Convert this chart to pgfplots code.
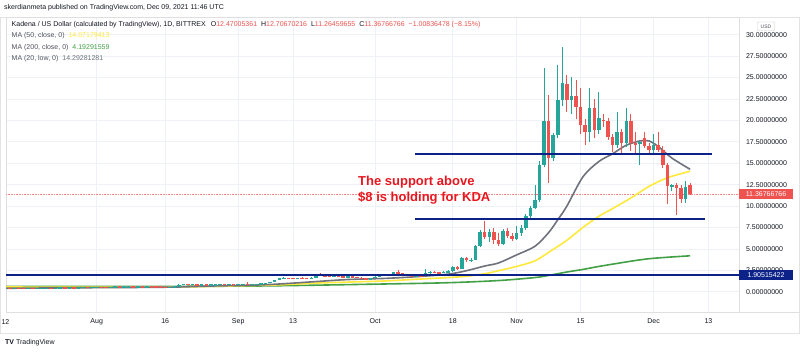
\documentclass[border=0pt]{standalone}
\usepackage{pgfplots}
\pgfplotsset{compat=1.18}
\usepackage{pgfplotstable}
\usepackage{fontspec}
\setmainfont{Liberation Sans}
\definecolor{up}{HTML}{26A69A}
\definecolor{dn}{HTML}{EF5350}
\definecolor{ma50}{HTML}{FFE93B}
\definecolor{ma200}{HTML}{43A047}
\definecolor{ma20}{HTML}{6F717C}
\definecolor{navy}{HTML}{0C2289}
\definecolor{gridc}{HTML}{EEF1F6}
\definecolor{txt}{HTML}{131722}
\definecolor{txtg}{HTML}{50535E}
\definecolor{annot}{HTML}{E8171F}

\pgfplotstableread{
d o h l c
-20 0.40 0.43 0.39 0.42
-19 0.42 0.43 0.40 0.41
-18 0.41 0.44 0.40 0.43
-17 0.43 0.44 0.41 0.42
-16 0.42 0.43 0.39 0.40
-15 0.40 0.42 0.39 0.41
-14 0.41 0.42 0.38 0.39
-13 0.39 0.41 0.38 0.40
-12 0.40 0.43 0.39 0.42
-11 0.42 0.45 0.41 0.44
-10 0.44 0.45 0.42 0.43
-9 0.43 0.46 0.42 0.45
-8 0.45 0.48 0.44 0.47
-7 0.47 0.48 0.45 0.46
-6 0.46 0.49 0.45 0.48
-5 0.48 0.49 0.46 0.47
-4 0.47 0.51 0.46 0.50
-3 0.50 0.53 0.49 0.52
-2 0.52 0.53 0.49 0.50
-1 0.50 0.54 0.49 0.53
0 0.53 0.56 0.52 0.55
1 0.55 0.56 0.53 0.54
2 0.54 0.55 0.51 0.52
3 0.52 0.56 0.51 0.55
4 0.55 0.58 0.54 0.57
5 0.57 0.58 0.55 0.56
6 0.56 0.59 0.55 0.58
7 0.58 0.62 0.57 0.60
8 0.60 0.61 0.56 0.57
9 0.57 0.60 0.56 0.59
10 0.59 0.60 0.57 0.58
11 0.58 0.62 0.57 0.61
12 0.61 0.62 0.59 0.60
13 0.60 0.61 0.57 0.58
14 0.58 0.59 0.54 0.55
15 0.55 0.56 0.48 0.50
16 0.50 0.57 0.49 0.56
17 0.56 0.62 0.55 0.60
18 0.60 0.86 0.59 0.82
19 0.82 0.92 0.80 0.88
20 0.88 0.90 0.82 0.84
21 0.84 0.89 0.82 0.86
22 0.86 0.87 0.78 0.80
23 0.80 0.85 0.78 0.83
24 0.83 0.84 0.76 0.78
25 0.78 0.84 0.77 0.82
26 0.82 0.87 0.80 0.85
27 0.85 0.90 0.84 0.88
28 0.88 0.89 0.82 0.84
29 0.84 0.88 0.83 0.86
30 0.86 0.87 0.81 0.83
31 0.83 0.88 0.82 0.86
32 0.86 0.90 0.85 0.88
33 0.88 1.08 0.84 0.85
34 0.85 0.89 0.84 0.87
35 0.87 0.92 0.86 0.90
36 0.90 0.97 0.89 0.95
37 0.95 1.06 0.93 1.00
38 1.00 1.18 0.98 1.15
39 1.15 1.38 1.12 1.35
40 1.35 1.58 1.32 1.55
41 1.55 1.68 1.50 1.60
42 1.60 1.63 1.52 1.58
43 1.58 1.62 1.50 1.56
44 1.56 1.64 1.54 1.60
45 1.60 1.66 1.52 1.57
46 1.57 1.60 1.50 1.55
47 1.55 1.70 1.53 1.65
48 1.65 2.12 1.63 2.00
49 2.00 2.15 1.88 1.92
50 1.92 1.98 1.80 1.85
51 1.85 1.90 1.76 1.80
52 1.80 1.90 1.76 1.84
53 1.84 1.95 1.72 1.78
54 1.78 1.84 1.62 1.72
55 1.72 1.80 1.68 1.76
56 1.76 1.86 1.70 1.74
57 1.74 1.77 1.60 1.65
58 1.65 1.68 1.50 1.55
59 1.55 1.60 1.40 1.45
60 1.45 1.64 1.42 1.60
61 1.60 1.80 1.58 1.75
62 1.75 1.86 1.72 1.82
63 1.82 2.06 1.80 2.00
64 2.00 2.10 1.95 2.05
65 2.05 2.30 2.02 2.25
66 2.25 2.55 2.08 2.15
67 2.15 2.22 1.98 2.05
68 2.05 2.10 1.88 1.92
69 1.92 1.98 1.80 1.85
70 1.85 1.95 1.82 1.90
71 1.90 1.94 1.74 1.80
72 1.80 2.60 1.78 2.20
73 2.20 2.45 2.12 2.30
74 2.30 2.40 2.15 2.25
75 2.25 2.32 2.10 2.20
76 2.20 2.38 2.15 2.30
77 2.30 2.48 2.25 2.40
78 2.40 3.00 2.35 2.90
79 2.90 2.95 2.55 2.65
80 2.65 4.00 2.60 3.90
81 3.90 4.05 3.45 3.65
82 3.65 3.90 3.50 3.70
83 3.70 5.40 3.65 5.30
84 5.30 7.20 5.20 7.00
85 7.00 8.30 6.20 6.40
86 6.40 7.30 5.80 7.00
87 7.00 7.40 5.60 6.00
88 6.00 6.80 5.30 5.60
89 5.60 7.30 5.50 7.10
90 7.10 7.40 6.30 6.50
91 6.50 6.90 5.90 6.20
92 6.20 7.70 6.00 6.80
93 6.80 7.80 6.50 7.40
94 7.40 9.10 7.20 8.80
95 8.80 10.00 8.60 9.80
96 9.80 12.50 9.60 10.70
97 10.70 15.30 10.50 14.80
98 14.80 26.10 14.60 19.90
99 19.90 23.00 12.70 15.60
100 15.60 18.50 15.20 18.30
101 18.30 26.50 17.90 22.40
102 22.40 28.60 21.70 24.40
103 24.20 25.30 21.00 22.40
104 22.40 25.10 20.80 22.80
105 22.80 24.70 20.20 21.60
106 21.60 23.80 18.40 19.50
107 19.50 20.20 17.10 18.70
108 18.70 23.80 17.50 21.50
109 21.50 22.50 18.00 18.90
110 18.90 23.30 18.40 20.30
111 20.10 20.80 19.20 19.90
112 19.90 20.30 17.70 18.10
113 18.10 18.40 16.30 17.10
114 17.10 21.00 16.80 18.70
115 18.70 19.00 16.20 17.40
116 17.40 21.40 16.90 19.90
117 19.90 20.80 16.40 17.40
118 17.40 18.60 16.20 17.20
119 17.20 17.60 14.80 17.45
120 17.90 18.60 16.80 17.00
121 17.00 17.40 16.00 16.50
122 16.50 18.40 16.20 17.10
123 17.10 18.60 16.30 16.60
124 16.60 17.00 14.40 14.80
125 14.80 15.00 10.20 12.30
126 12.20 12.60 11.70 12.40
127 12.40 12.70 9.00 12.10
128 12.10 12.40 10.30 10.80
129 10.80 12.90 10.40 12.20
130 12.47 12.71 11.26 11.37
}\kda

\begin{document}
\begin{tikzpicture}[x=1pt,y=1pt]
\path[use as bounding box] (0,0) rectangle (800,353);
\fill[white] (0,0) rectangle (800,353);
\draw[gray!22, line width=0.6pt] (0.3,20) rectangle (799.7,336);
\begin{axis}[
  at={(6pt,41pt)}, anchor=south west, scale only axis,
  width=733pt, height=295pt,
  xmin=-19.87, xmax=140.7, ymin=-2.37, ymax=32.07,
  axis line style={draw=gray!25, line width=0.6pt},
  ytick={0,2.5,5,7.5,10,12.5,15,17.5,20,22.5,25,27.5,30},
  yticklabels={0.00000000,2.50000000,5.00000000,7.50000000,10.00000000,12.50000000,15.00000000,17.50000000,20.00000000,22.50000000,25.00000000,27.50000000,30.00000000},
  yticklabel pos=right,
  yticklabel style={font=\fontsize{7}{8}\selectfont, text=txt, xshift=3.5pt},
  xtick={0,15,31,43,61,78,92,106,122,134},
  xticklabels={Aug,16,Sep,13,Oct,18,Nov,15,Dec,13},
  xticklabel style={font=\fontsize{7}{8}\selectfont, text=txt, yshift=-3.5pt},
  major tick length=0pt,
  grid=major, grid style={gridc, line width=0.6pt},
  /pgf/number format/assume math mode=true,
  clip=true,
]
% red dotted price line
\addplot[dn!70, densely dotted, line width=0.6pt, forget plot] coordinates {(-19.87,11.37) (140.7,11.37)};
% moving averages
\addplot[ma200, line width=1.6pt, smooth, tension=0.5] coordinates {
(-20,0.62) (0,0.62) (34,0.66) (63,0.90) (77,1.05) (88,1.30) (96,1.65) (99,1.90) (103,2.30) (106.5,2.60) (110,2.95) (114,3.30) (117.5,3.60) (121,3.85) (125,4.02) (130,4.19)};
\addplot[ma50, line width=1.6pt, smooth, tension=0.5] coordinates {
(-20,0.55) (0,0.52) (18,0.55) (25,0.62) (34,0.72) (40,0.80) (48,1.00) (55,1.12) (63,1.25) (70,1.45) (77,1.65) (81,1.80) (85,2.10) (88,2.45) (92,2.95) (96,3.60) (99,4.60) (103,6.00) (106.5,7.50) (110,8.80) (114,10.00) (117.5,11.10) (121,12.30) (125,13.30) (130,14.07)};
\addplot[ma20, line width=1.6pt, smooth, tension=0.5] coordinates {
(-20,0.40) (0,0.47) (10,0.50) (18,0.55) (25,0.66) (34,0.76) (40,0.90) (48,1.18) (55,1.42) (63,1.55) (70,1.75) (77,2.05) (81,2.45) (85,3.00) (88,3.35) (92,4.30) (96,5.30) (99,6.90) (101,8.40) (103,10.00) (106.5,13.40) (110,15.20) (113,16.10) (116,17.10) (119,17.60) (121,17.60) (123,16.95) (126,15.60) (130,14.29)};
% wicks
\addplot[draw=none, mark=none, forget plot,
  restrict expr to domain={\thisrow{c}-\thisrow{o}}{0:100},
  error bars/.cd, y dir=both, y explicit, error mark=none,
  error bar style={line width=0.9pt, draw=up}]
  table[x=d, y expr=(\thisrow{h}+\thisrow{l})/2, y error expr=(\thisrow{h}-\thisrow{l})/2] {\kda};
\addplot[draw=none, mark=none, forget plot,
  restrict expr to domain={\thisrow{c}-\thisrow{o}}{-100:-0.000001},
  error bars/.cd, y dir=both, y explicit, error mark=none,
  error bar style={line width=0.9pt, draw=dn}]
  table[x=d, y expr=(\thisrow{h}+\thisrow{l})/2, y error expr=(\thisrow{h}-\thisrow{l})/2] {\kda};
% bodies
\addplot[draw=none, mark=none, forget plot,
  restrict expr to domain={\thisrow{c}-\thisrow{o}}{0:100},
  error bars/.cd, y dir=both, y explicit, error mark=none,
  error bar style={line width=3.5pt, draw=up}]
  table[x=d, y expr=(\thisrow{o}+\thisrow{c})/2, y error expr={max(abs(\thisrow{c}-\thisrow{o})/2,0.05)}] {\kda};
\addplot[draw=none, mark=none, forget plot,
  restrict expr to domain={\thisrow{c}-\thisrow{o}}{-100:-0.000001},
  error bars/.cd, y dir=both, y explicit, error mark=none,
  error bar style={line width=3.5pt, draw=dn}]
  table[x=d, y expr=(\thisrow{o}+\thisrow{c})/2, y error expr={max(abs(\thisrow{c}-\thisrow{o})/2,0.05)}] {\kda};
% support / resistance lines
\addplot[navy, line width=2pt] coordinates {(69.8,16.07) (134.8,16.07)};
\addplot[navy, line width=2pt] coordinates {(69.8,8.49) (133.3,8.49)};
\addplot[navy, line width=2pt] coordinates {(-19.87,1.905) (140.7,1.905)};
\end{axis}
\draw[gray!25, line width=0.6pt] (739,41) -- (800,41);
% header
\node[anchor=west, inner sep=0, font=\fontsize{7}{8}\selectfont, text=txt] at (4,345) {skerdianmeta published on TradingView.com, Dec 09, 2021 11:46 UTC};
\node[anchor=west, inner sep=0, font=\fontsize{7}{8}\selectfont, text=txt] at (11.5,328) {Kadena / US Dollar (calculated by TradingView), 1D, BITTREX\hspace{5pt}O\textcolor{dn}{12.47005361}\hspace{4pt}H\textcolor{dn}{12.70670216}\hspace{4pt}L\textcolor{dn}{11.26459655}\hspace{4pt}C\textcolor{dn}{11.36766766\hspace{4pt}−1.00836478 (−8.15\%)}};
\node[anchor=west, inner sep=0, font=\fontsize{7}{8}\selectfont, text=txtg] at (11.5,317) {MA (50, close, 0)\hspace{4pt}\textcolor{ma50}{14.07179413}};
\node[anchor=west, inner sep=0, font=\fontsize{7}{8}\selectfont, text=txtg] at (11.5,305.5) {MA (200, close, 0)\hspace{4pt}\textcolor{ma200}{4.19291559}};
\node[anchor=west, inner sep=0, font=\fontsize{7}{8}\selectfont, text=txtg] at (11.5,294.5) {MA (20, low, 0)\hspace{4pt}\textcolor{ma20}{14.29281281}};
% annotation
\node[anchor=west, inner sep=0, align=left, text=annot, font=\bfseries\fontsize{13}{16}\selectfont] at (358,163) {The support above\\\$8 is holding for KDA};
% price labels
\fill[dn] (739,153.8) rectangle (793,163.6);
\node[text=white, inner sep=0, font=\fontsize{7}{8}\selectfont] at (766,158.7) {11.36766766};
\fill[navy] (739,72.8) rectangle (793,82.6);
\node[text=white, inner sep=0, font=\fontsize{7}{8}\selectfont] at (766,77.7) {1.90515422};
\draw[gray!40, fill=white, rounded corners=1pt, line width=0.4pt] (757.5,322.5) rectangle (774.5,331);
\node[text=txtg, inner sep=0, font=\fontsize{5}{6}\selectfont] at (766,326.7) {USD};
\node[text=txt, inner sep=0, font=\fontsize{7}{8}\selectfont] at (5.4,31) {12};
% footer
\node[anchor=west, inner sep=0, font=\fontsize{7}{8}\selectfont, text=txt] at (5,10) {\textbf{TV}\hspace{2pt}TradingView};
\end{tikzpicture}
\end{document}
